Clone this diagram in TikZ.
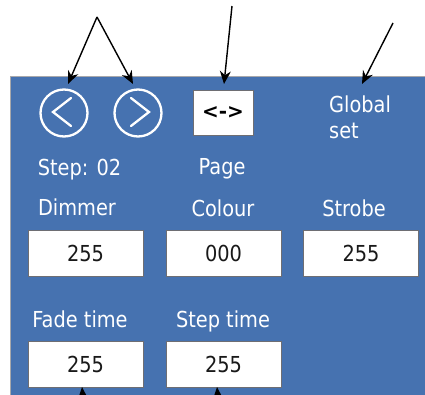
\documentclass[tikz,border=0pt]{standalone}
\usepackage{fontspec}
\setmainfont[FakeStretch=0.88]{DejaVu Sans}
\newfontfamily\plainfont{DejaVu Sans}
\usetikzlibrary{arrows.meta}
\definecolor{panelblue}{RGB}{70,114,176}
\definecolor{boxgrey}{RGB}{110,110,115}
\definecolor{txtdark}{RGB}{25,25,25}
\tikzset{
  lbl/.style={text=white,font=\fontsize{22}{26}\selectfont,anchor=base,inner sep=0pt},
  valbox/.style={draw=boxgrey,line width=0.8pt,fill=white,minimum width=115pt,minimum height=46pt,inner sep=0pt,text=txtdark,font=\fontsize{22}{26}\selectfont},
  ring/.style={circle,draw=white,line width=2.3pt,minimum size=47pt,inner sep=0pt},
  chev/.style={white,line width=2.3pt,line cap=round,line join=miter},
  pointer/.style={black,line width=1.4pt,-{Stealth[length=13pt,width=11pt]}}
}
\begin{document}
\begin{tikzpicture}[x=1pt,y=-1pt]
\useasboundingbox (0,0) rectangle (425,394);
% panel
\fill[panelblue] (10,76) rectangle (430,400);
\draw[boxgrey!60,line width=0.8pt] (10,400) -- (10,76) -- (430,76);
% round buttons
\node[ring] (prev) at (64,113) {};
\node[ring] (next) at (138,113) {};
\draw[chev] (71,98) -- (53,112) -- (71,126);
\draw[chev] (131,98) -- (149,112) -- (131,126);
% page box
\node[draw=boxgrey,line width=0.6pt,fill=white,minimum width=60pt,minimum height=45pt,inner sep=0pt,font=\plainfont\fontsize{20}{24}\selectfont\bfseries] (pagebox) at (223,112.5) {<->};
% global set
\node[lbl,anchor=north west,align=left,font=\fontsize{22}{26}\selectfont] (global) at (329,96) {Global\\set};
% labels
\node[lbl] (steplbl) at (79.5,175) {Step: 02};
\node[lbl] (pagelbl) at (222,174) {Page};
\node[lbl] (dimlbl) at (77,215) {Dimmer};
\node[lbl] (collbl) at (223,216) {Colour};
\node[lbl] (strlbl) at (354,216) {Strobe};
\node[lbl] (fadelbl) at (80,327) {Fade time};
\node[lbl] (steptlbl) at (223,327) {Step time};
% value boxes
\node[valbox] (dim) at (85.5,253.5) {255};
\node[valbox] (col) at (223.5,253.5) {000};
\node[valbox] (str) at (361,253.5) {255};
\node[valbox] (fade) at (85.5,364) {255};
\node[valbox] (stept) at (223.5,364) {255};
% pointer arrows
\coordinate (apex) at (97,17);
\coordinate (ptop) at (232,6);
\coordinate (gtop) at (393,23);
\coordinate (fbot) at (84,412);
\coordinate (sbot) at (219,412);
\coordinate (prevtip) at (68,84);
\coordinate (nexttip) at (133,84);
\coordinate (pagetip) at (224,84);
\coordinate (globtip) at (362,84);
\coordinate (fadetip) at (82,387);
\coordinate (steptip) at (217,387);
\draw[pointer] (apex) -- (prevtip);
\draw[pointer] (apex) -- (nexttip);
\draw[pointer] (ptop) -- (pagetip);
\draw[pointer] (gtop) -- (globtip);
\draw[pointer] (fbot) -- (fadetip);
\draw[pointer] (sbot) -- (steptip);
\end{tikzpicture}
\end{document}
